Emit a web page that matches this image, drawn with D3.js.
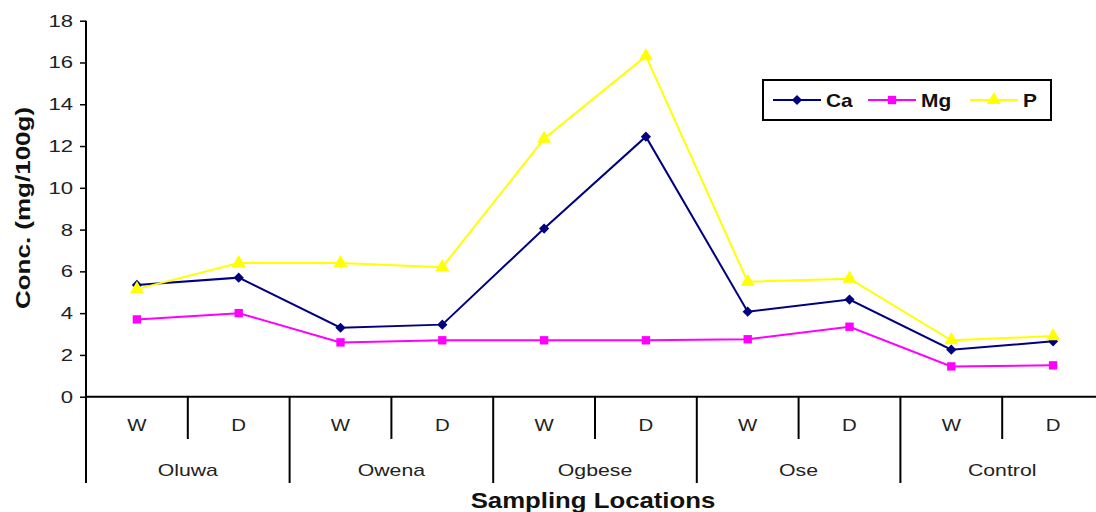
<!DOCTYPE html>
<html><head><meta charset="utf-8">
<script src="https://cdn.jsdelivr.net/npm/d3@7"></script>
<style>body{margin:0;background:#fff}svg{display:block}text{font-family:"Liberation Sans",Arial,sans-serif}</style>
</head><body><svg id="c" width="1096" height="512"></svg>
<script>
const locations = ["Oluwa","Owena","Ogbese","Ose","Control"];
const seasons = ["W","D"];
const yTicks = [0,2,4,6,8,10,12,14,16,18];
const caValues = [5.35,5.7,3.3,3.45,8.05,12.45,4.07,4.65,2.25,2.65];
const mgValues = [3.7,4.0,2.6,2.7,2.7,2.7,2.75,3.35,1.45,1.5];
const pValues  = [5.15,6.4,6.4,6.2,12.35,16.3,5.5,5.65,2.7,2.9];
const seriesNames = ["Ca","Mg","P"];
const seriesColors = ["#000080","#ff00ff","#ffff00"];

(function(){
const svg = d3.select("#c");
const pL = 86, pR = 1104, pT = 20.7, pB = 396.7;
function stretch(sel, f){ sel.each(function(){ const L=this.getComputedTextLength(); this.setAttribute("textLength", L*f); this.setAttribute("lengthAdjust","spacingAndGlyphs"); }); }
const cats = [];
locations.forEach(l => seasons.forEach(s => cats.push(l + "|" + s)));
const x = d3.scaleBand().domain(cats).range([pL, pR]);
const xg = d3.scaleBand().domain(locations).range([pL, pR]);
const y = d3.scaleLinear().domain([0,18]).range([pB, pT]);

// y axis
const ya = svg.append("g").attr("transform", `translate(${pL},0)`)
  .call(d3.axisLeft(y).tickValues(yTicks).tickSize(6).tickPadding(7));
ya.select(".domain").remove();
ya.selectAll(".tick line").attr("stroke","#000").attr("stroke-width",1.5);
ya.selectAll(".tick text").attr("font-size",17).attr("fill","#222").attr("font-family","Liberation Sans, Arial");
stretch(ya.selectAll(".tick text"), 1.3);
svg.append("line").attr("x1",pL).attr("x2",pL).attr("y1",pT).attr("y2",483).attr("stroke","#000").attr("stroke-width",2);
svg.append("line").attr("x1",pL).attr("x2",pR).attr("y1",pB).attr("y2",pB).attr("stroke","#000").attr("stroke-width",2);

// category separators
cats.forEach((c,i) => {
  if (i === 0) return;
  const xx = x(c);
  const isGroup = i % 2 === 0;
  svg.append("line").attr("x1",xx).attr("x2",xx).attr("y1",pB).attr("y2",isGroup?483:439)
    .attr("stroke","#000").attr("stroke-width",2);
});
const sl = svg.append("g");
cats.forEach(c => {
  sl.append("text").attr("x", x(c)+x.bandwidth()/2).attr("y",431).attr("text-anchor","middle")
    .attr("font-size",17).attr("fill","#222").text(c.split("|")[1]);
});
stretch(sl.selectAll("text"), 1.2);
const gl = svg.append("g");
locations.forEach(l => {
  gl.append("text").attr("x", xg(l)+xg.bandwidth()/2).attr("y",476).attr("text-anchor","middle")
    .attr("font-size",17).attr("fill","#222").text(l);
});
stretch(gl.selectAll("text"), 1.25);

// titles
const xt = svg.append("text").attr("x",593).attr("y",508).attr("text-anchor","middle")
  .attr("font-size",22).attr("font-weight","bold").attr("fill","#111").text("Sampling Locations");
stretch(xt, 1.17);
const yt = svg.append("text").attr("transform","translate(30,208) rotate(-90)").attr("text-anchor","middle")
  .attr("font-size",20).attr("font-weight","bold").attr("fill","#111").text("Conc. (mg/100g)");
stretch(yt, 1.3);

// series
const data = [caValues, mgValues, pValues];
const symbols = [d3.symbolSquare, d3.symbolSquare, d3.symbolTriangle];
const sizes = [52, 70, 85];
const rot = [45, 0, 0];
const line = d3.line().x((d,i) => x(cats[i]) + x.bandwidth()/2).y(d => y(d));
data.forEach((vals, k) => {
  const g = svg.append("g");
  g.append("path").datum(vals).attr("d", line).attr("fill","none")
    .attr("stroke", seriesColors[k]).attr("stroke-width",2);
  g.selectAll("path.m").data(vals).enter().append("path").attr("class","m")
    .attr("d", d3.symbol().type(symbols[k]).size(sizes[k]))
    .attr("transform",(d,i)=>`translate(${x(cats[i])+x.bandwidth()/2},${y(d)}) rotate(${rot[k]})`)
    .attr("fill", seriesColors[k]);
});

// legend
const lg = svg.append("g");
lg.append("rect").attr("x",763).attr("y",80).attr("width",288).attr("height",40)
  .attr("fill","#fff").attr("stroke","#000").attr("stroke-width",2);
const lx = [773, 868, 970];
seriesNames.forEach((n,k) => {
  lg.append("line").attr("x1",lx[k]).attr("x2",lx[k]+48).attr("y1",100).attr("y2",100)
    .attr("stroke",seriesColors[k]).attr("stroke-width",2);
  lg.append("path").attr("d", d3.symbol().type(symbols[k]).size(sizes[k]))
    .attr("transform",`translate(${lx[k]+24},100) rotate(${rot[k]})`).attr("fill",seriesColors[k]);
  const t = lg.append("text").attr("x",lx[k]+53).attr("y",107).attr("font-size",19).attr("font-weight","bold")
    .attr("fill","#111").text(n);
  stretch(t, 1.1);
});
})();
</script></body></html>
